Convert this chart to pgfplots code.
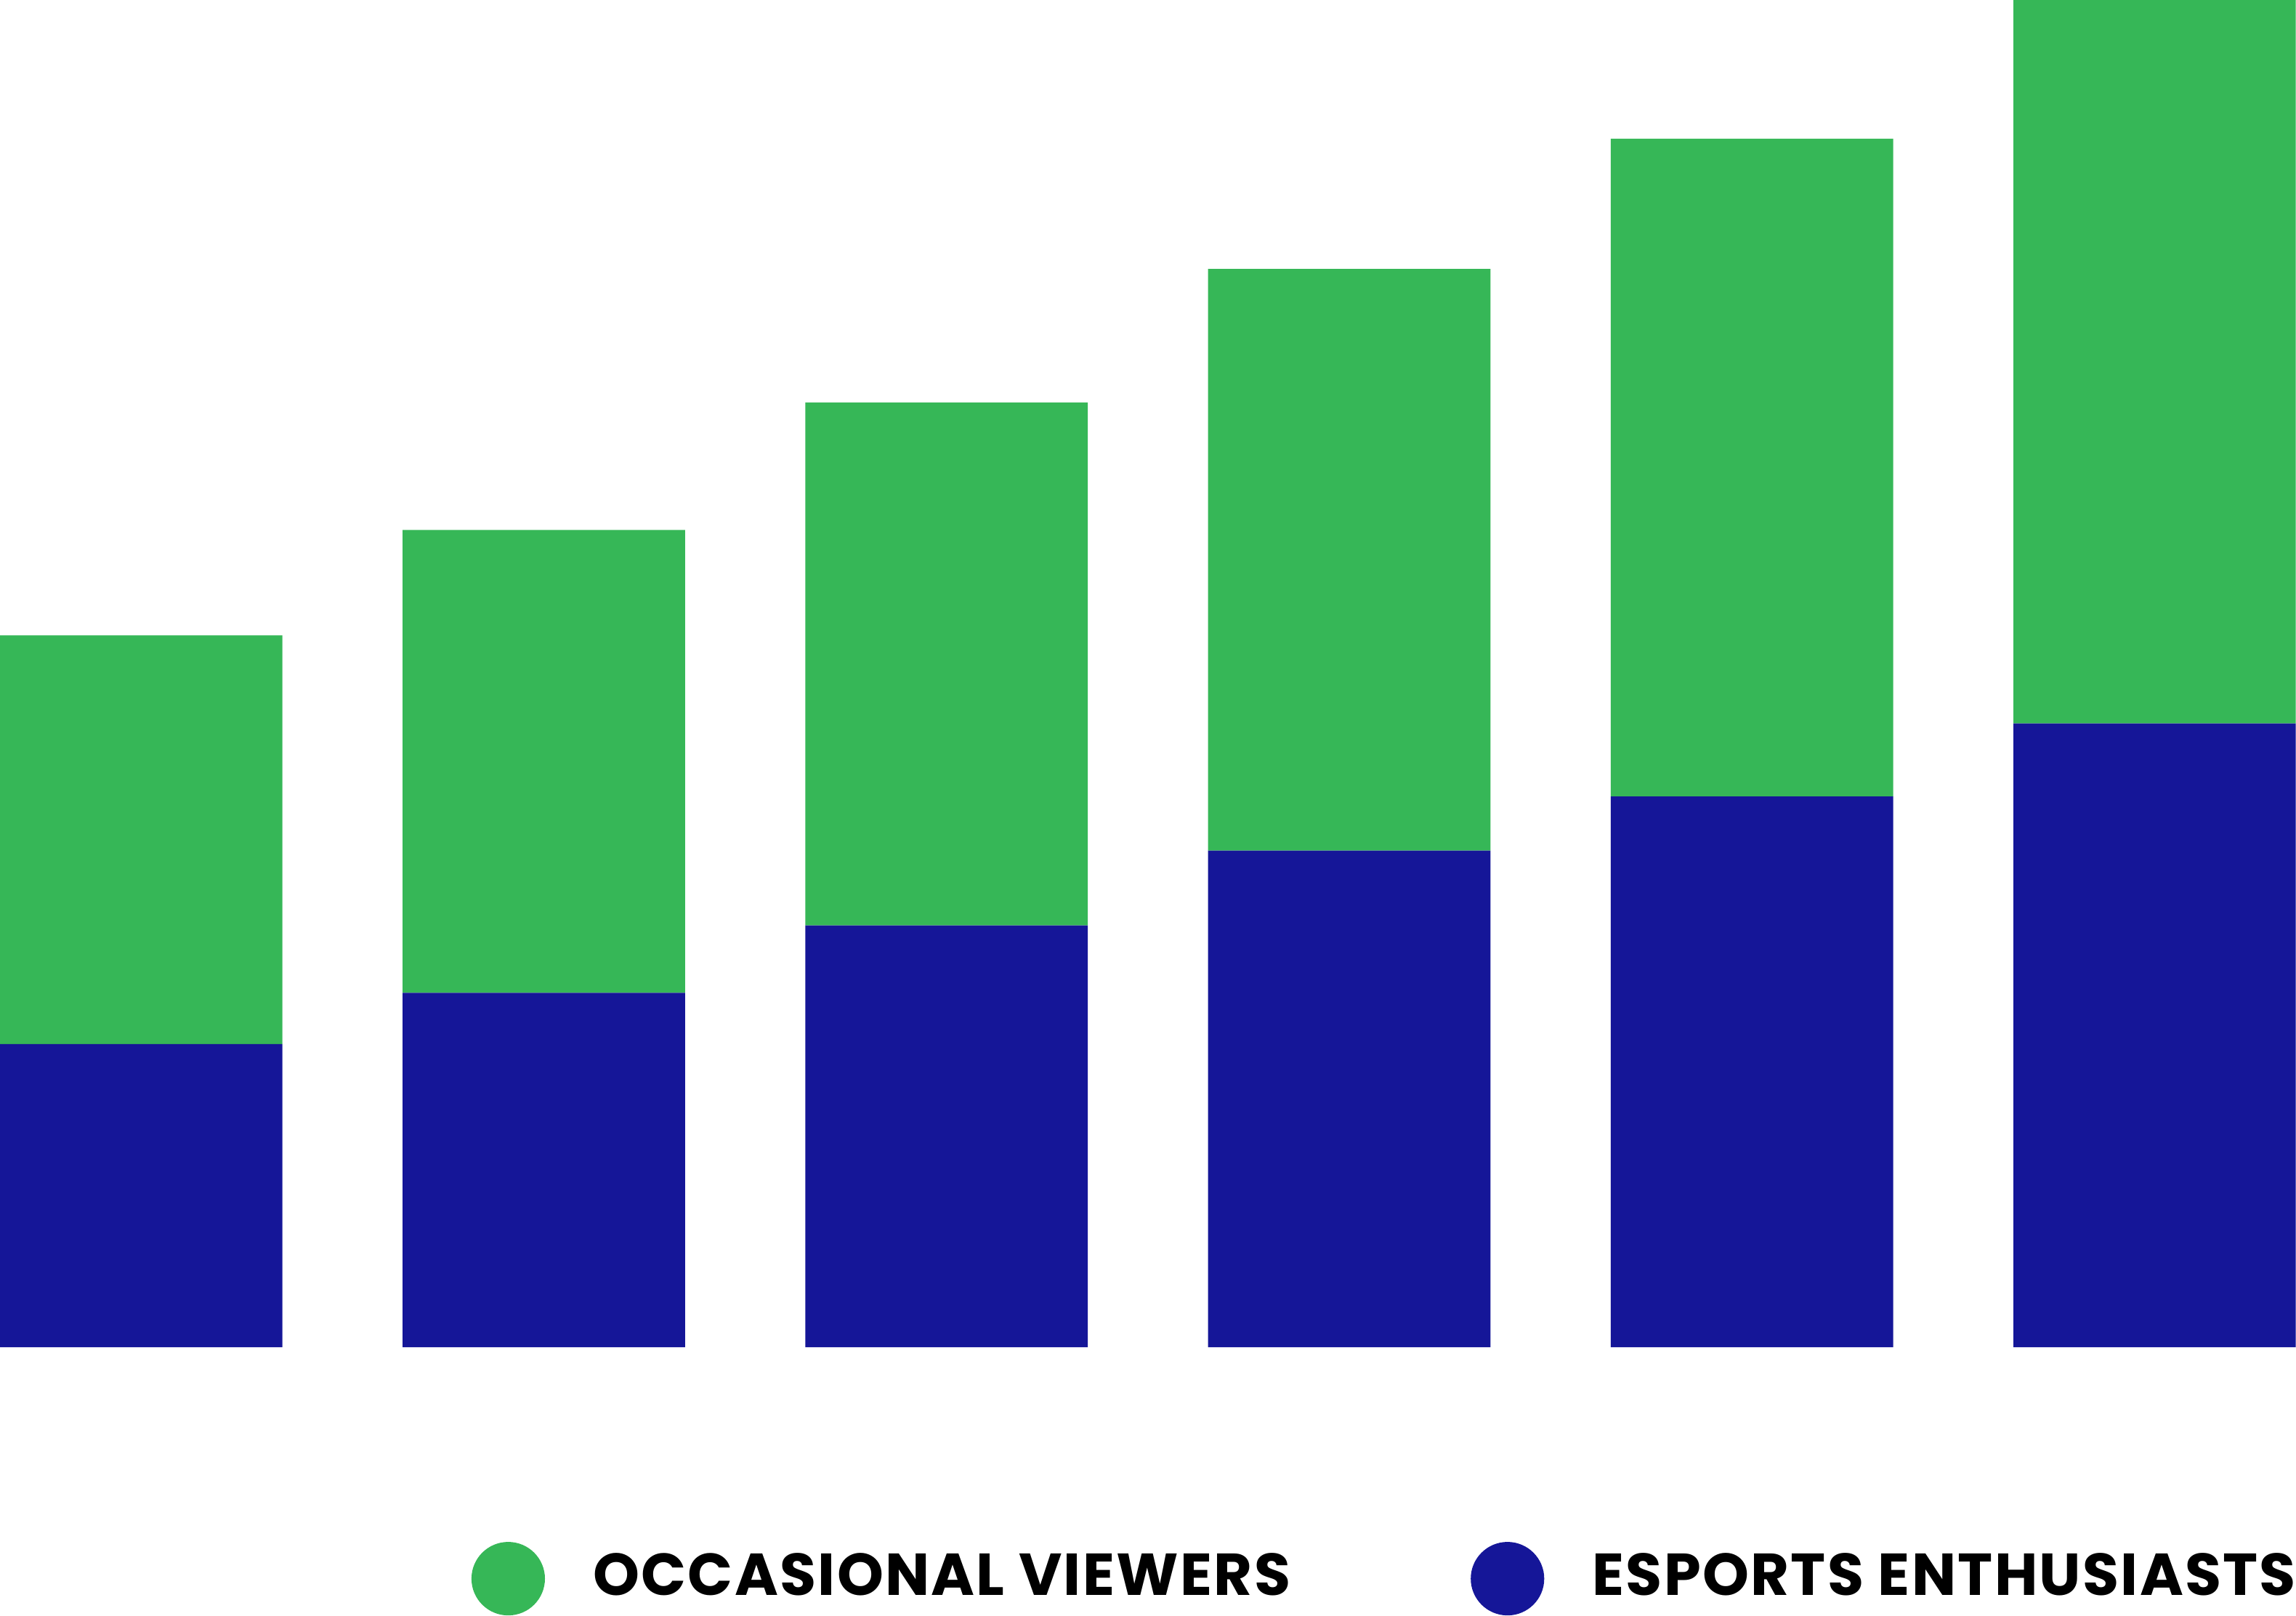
\documentclass[border=0pt]{standalone}
\usepackage{pgfplots}
\pgfplotsset{compat=1.18}
\usepackage{fontspec}
\setmainfont{Poppins}
\newfontfamily\legfont[LetterSpace=2.8]{Poppins}
\definecolor{cgreen}{HTML}{36B757}
\definecolor{cblue}{HTML}{151698}
\begin{document}
\begin{tikzpicture}
\begin{axis}[
  scale only axis,
  width=400pt, height=234.7pt,
  hide axis,
  ybar stacked,
  bar width=49.2pt,
  xmin=-0.351, xmax=5.351,
  ymin=0, ymax=634,
  legend columns=2,
  legend image code/.code={\fill[#1] (6.4pt,0pt) circle (6.4pt);},
  legend style={
    at={(0.2054,-0.199)}, anchor=south west,
    draw=none, inner sep=0pt, outer sep=0pt,
    font=\legfont\bfseries\fontsize{10.3}{12}\selectfont,
    nodes={inner xsep=0pt, inner ysep=0pt},
    /tikz/every odd column/.append style={column sep=8.4pt},
    /tikz/every even column/.append style={column sep=31.4pt},
  },
]
\addplot[fill=cblue, draw=none, forget plot] coordinates {(0,142.7) (1,166.8) (2,198.5) (3,233.7) (4,259.2) (5,293.6)};
\addplot[fill=cgreen, draw=none, forget plot] coordinates {(0,192.3) (1,217.8) (2,246.1) (3,273.7) (4,309.5) (5,340.4)};
\addlegendimage{fill=cgreen, draw=none}
\addlegendentry{OCCASIONAL VIEWERS}
\addlegendimage{fill=cblue, draw=none}
\addlegendentry{ESPORTS ENTHUSIASTS}
\end{axis}
\end{tikzpicture}
\end{document}
